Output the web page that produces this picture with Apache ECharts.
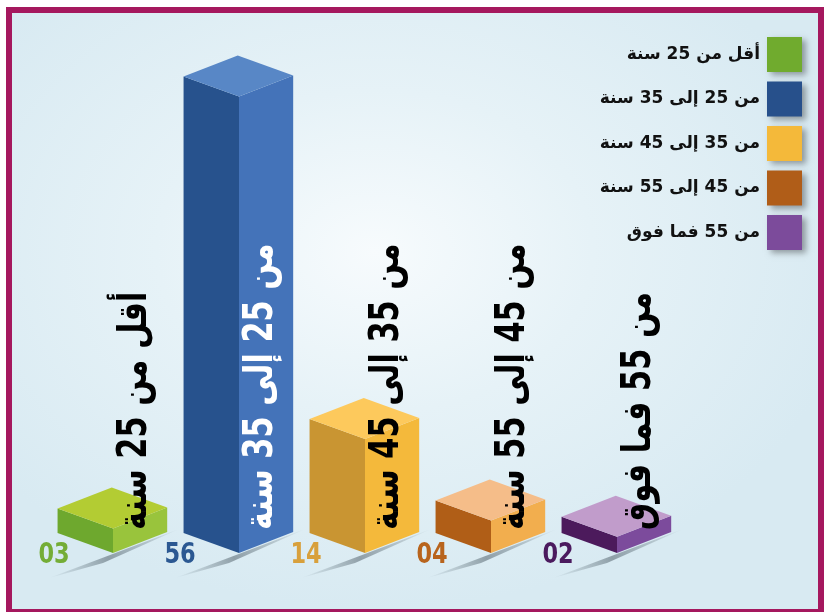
<!DOCTYPE html>
<html>
<head>
<meta charset="utf-8">
<script src="https://cdn.jsdelivr.net/npm/echarts@6/dist/echarts.min.js"></script>
<style>
  html, body { margin: 0; padding: 0; background: #fff; overflow: hidden; }
  #frame {
    position: absolute; left: 6px; top: 7px; width: 818px; height: 608px;
    box-sizing: border-box; border: 6px solid #a5185e;
    background: radial-gradient(ellipse 60% 60% at 45% 40%, #f7fbfd 0%, #e6f2f7 45%, #d8eaf2 100%);
  }
  #chart { position: absolute; left: 0; top: 0; width: 824px; height: 612px; }
</style>
</head>
<body>
<div id="frame"></div>
<div id="chart"></div>
<script>
// age groups, shares and the printed figures
const categories = ['أقل من 25 سنة', 'من 25 إلى 35 سنة', 'من 35 إلى 45 سنة', 'من 45 إلى 55 سنة', 'من 55 فما فوق'];
const values = [3, 56, 14, 4, 2];
const valueLabels = ['03', '56', '14', '04', '02'];

// colours per group: legend, left face, right face, top face, number, label text
const palette = [
  { legend: '#70ab2e', left: '#6ea82e', right: '#99c43c', top: '#b3cc33', num: '#74ad36', text: '#000' },
  { legend: '#27508b', left: '#27528d', right: '#4473b9', top: '#5887c6', num: '#2b5892', text: '#fff' },
  { legend: '#f4b93a', left: '#c99532', right: '#f4b93b', top: '#fdc95c', num: '#d8a03c', text: '#000' },
  { legend: '#b05d18', left: '#b05e17', right: '#f2ae4e', top: '#f5bd89', num: '#b8641d', text: '#000' },
  { legend: '#7c4b9b', left: '#4c1a5c', right: '#7c4b9c', top: '#c19ccb', num: '#4b1a5e', text: '#000' }
];

function makeRender(idx) {
  const c = palette[idx];
  return function (params, api) {
    const i = api.value(0);
    const v = api.value(1);
    const base = api.coord([i, 0]);
    const top = api.coord([i, v]);
    const band = api.size([1, 0])[0];
    const cx = base[0], yb = base[1], yt = top[1];
    const lw = band * 0.44, rw = band * 0.43, ld = 20, rd = 21;

    return {
      type: 'group',
      children: [
        { // floor shadow
          type: 'polygon',
          shape: { points: [[cx + rw + 12, yb - rd - 3], [cx - 64, yb + 25], [cx - 10, yb + 10]] },
          style: {
            fill: new echarts.graphic.LinearGradient(0, 1, 1, 0, [
              { offset: 0, color: 'rgba(50,70,80,0)' },
              { offset: 0.45, color: 'rgba(40,55,65,0.42)' },
              { offset: 0.75, color: 'rgba(40,55,65,0.22)' },
              { offset: 1, color: 'rgba(40,55,65,0)' }
            ])
          }
        },
        { // left face
          type: 'polygon',
          shape: { points: [[cx - lw, yt - ld], [cx, yt], [cx, yb], [cx - lw, yb - ld]] },
          style: { fill: c.left }
        },
        { // right face
          type: 'polygon',
          shape: { points: [[cx, yt], [cx + rw, yt - rd], [cx + rw, yb - rd], [cx, yb]] },
          style: { fill: c.right }
        },
        { // top face
          type: 'polygon',
          shape: { points: [[cx - lw, yt - ld], [cx - lw + rw, yt - ld - rd], [cx + rw, yt - rd], [cx, yt]] },
          style: { fill: c.top }
        },
        { // figure under the box
          type: 'text',
          x: cx - 59, y: yb + 2,
          scaleX: 0.86,
          style: {
            text: valueLabels[i], fill: c.num,
            fontFamily: '"Liberation Sans Narrow", "DejaVu Sans Condensed", sans-serif',
            fontWeight: 'bold', fontSize: 29,
            align: 'center', verticalAlign: 'middle'
          }
        },
        { // vertical category label
          type: 'text',
          x: cx + 23, y: yb - 23,
          rotation: Math.PI / 2,
          scaleX: 0.76,
          style: {
            text: categories[i], fill: c.text,
            fontFamily: '"DejaVu Sans", sans-serif',
            fontWeight: 'bold', fontSize: 40,
            align: 'left', verticalAlign: 'middle'
          }
        }
      ]
    };
  };
}

const chart = echarts.init(document.getElementById('chart'), null, { renderer: 'canvas' });

chart.setOption({
  animation: false,
  backgroundColor: 'transparent',
  grid: { left: 50, right: 144, top: 64, bottom: 59 },
  xAxis: { type: 'category', data: categories, show: false },
  yAxis: { type: 'value', min: 0, max: 60, show: false },
  legend: {
    orient: 'vertical',
    right: 22,
    top: 37,
    padding: 0,
    align: 'right',
    icon: 'rect',
    itemWidth: 35,
    itemHeight: 35,
    itemGap: 9.5,
    selectedMode: false,
    data: categories,
    itemStyle: { shadowBlur: 6, shadowOffsetX: 4, shadowOffsetY: 3, shadowColor: 'rgba(0,0,0,0.35)' },
    textStyle: {
      fontFamily: '"DejaVu Sans", sans-serif',
      fontWeight: 'bold',
      fontSize: 17,
      color: '#111',
      padding: [0, 2, 0, 0]
    }
  },
  series: categories.map((name, idx) => ({
    type: 'custom',
    name: name,
    silent: true,
    itemStyle: { color: palette[idx].legend },
    renderItem: makeRender(idx),
    data: [[idx, values[idx]]]
  }))
});
</script>
</body>
</html>
